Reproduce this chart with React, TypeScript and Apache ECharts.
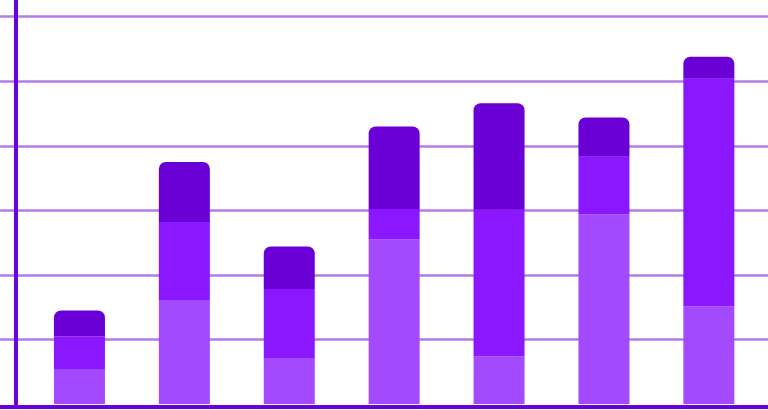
import React, { useEffect, useRef } from "react";
import * as echarts from "echarts";

const categories = ["A", "B", "C", "D", "E", "F", "G"];
const bottomSeries = [5.3, 16.1, 7.0, 25.5, 7.4, 29.4, 15.1];
const middleSeries = [5.2, 12.1, 10.8, 4.7, 22.7, 8.9, 35.3];
const topSeries = [4.0, 9.3, 6.6, 12.8, 16.5, 6.1, 3.4];

export default function App() {
  const ref = useRef<HTMLDivElement>(null);
  useEffect(() => {
    if (!ref.current) return;
    const chart = echarts.init(ref.current, undefined, { renderer: "svg" });
    const axisColor = "#6c00d8";
    chart.setOption({
      animation: false,
      grid: [
        { left: 27, right: 6.7, top: 0, bottom: 6 },
        { left: 0, right: 0, top: 16.7, bottom: 70.55 },
      ],
      xAxis: [
        {
          type: "category",
          gridIndex: 0,
          data: categories,
          axisLine: { show: false },
          axisTick: { show: false },
          axisLabel: { show: false },
          splitLine: { show: false },
        },
        {
          type: "value",
          gridIndex: 1,
          min: 0,
          max: 1,
          offset: 67.05,
          axisLine: { show: true, onZero: false, lineStyle: { color: axisColor, width: 4 } },
          axisTick: { show: false },
          axisLabel: { show: false },
          splitLine: { show: false },
        },
      ],
      yAxis: [
        {
          type: "value",
          gridIndex: 0,
          min: 0,
          max: 62.59,
          offset: 11.5,
          axisLine: { show: true, onZero: false, lineStyle: { color: axisColor, width: 4 } },
          axisTick: { show: false },
          axisLabel: { show: false },
          splitLine: { show: false },
        },
        {
          type: "value",
          gridIndex: 1,
          min: 10,
          max: 60,
          interval: 10,
          axisLine: { show: false },
          axisTick: { show: false },
          axisLabel: { show: false },
          splitLine: { show: true, lineStyle: { color: "#b27be9", width: 2.5 } },
        },
      ],
      series: [
        {
          type: "bar",
          stack: "s",
          xAxisIndex: 0,
          yAxisIndex: 0,
          barWidth: 51,
          data: bottomSeries,
          itemStyle: { color: "#a349fe" },
        },
        {
          type: "bar",
          stack: "s",
          xAxisIndex: 0,
          yAxisIndex: 0,
          barWidth: 51,
          data: middleSeries,
          itemStyle: { color: "#8a17fe" },
        },
        {
          type: "bar",
          stack: "s",
          xAxisIndex: 0,
          yAxisIndex: 0,
          barWidth: 51,
          data: topSeries,
          itemStyle: { color: "#6a00d6", borderRadius: [7, 7, 0, 0] },
        },
      ],
    });
    return () => chart.dispose();
  }, []);
  return (
    <div
      ref={ref}
      style={{ position: "absolute", left: 0, top: 0, width: 768, height: 410 }}
    />
  );
}
